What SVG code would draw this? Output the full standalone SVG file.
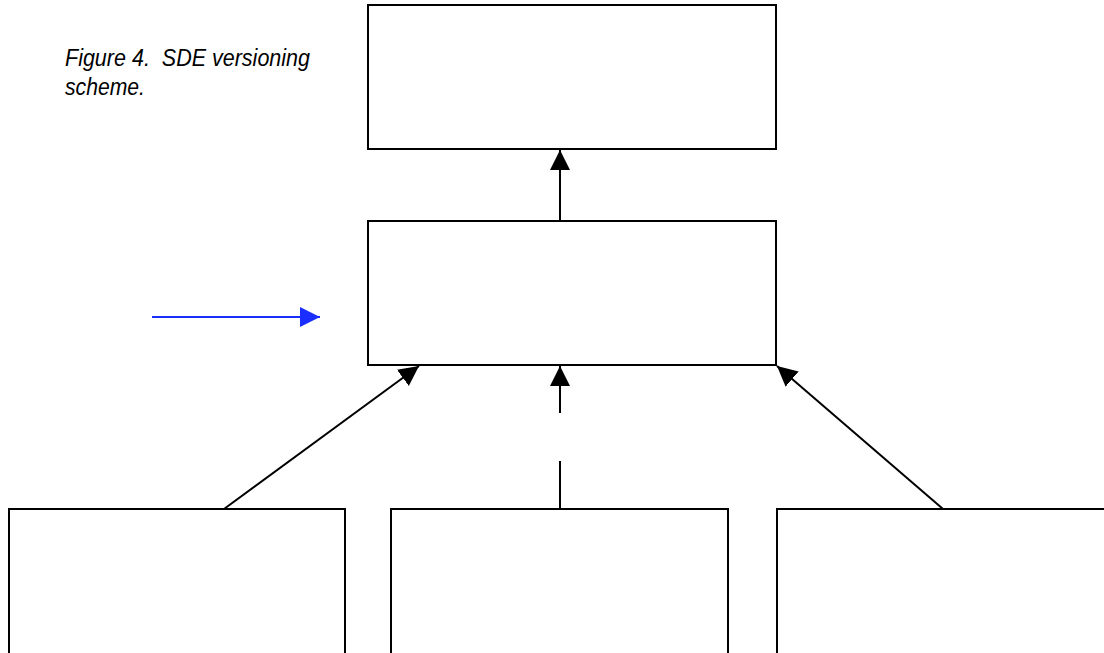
<svg xmlns="http://www.w3.org/2000/svg" width="1104" height="653" viewBox="0 0 1104 653">
<style>
.box{fill:#fff;stroke:#000;stroke-width:2}
.con{stroke:#000;stroke-width:2;fill:none}
.cap{font-family:"Liberation Sans",Arial,sans-serif;font-style:italic;font-size:24px;fill:#000}
</style>
<defs>
<marker id="ah" markerUnits="userSpaceOnUse" markerWidth="20" markerHeight="20" viewBox="0 0 20 20" refX="20" refY="10" orient="auto">
<path d="M0,0 L20,10 L0,20 Z" fill="#000"/>
</marker>
<marker id="ahb" markerUnits="userSpaceOnUse" markerWidth="20" markerHeight="20" viewBox="0 0 20 20" refX="20" refY="10" orient="auto">
<path d="M0,0 L20,10 L0,20 Z" fill="#1a2eff"/>
</marker>
</defs>
<rect width="1104" height="653" fill="#fff"/>
<g id="caption">
<text class="cap" x="65" y="66" textLength="245" lengthAdjust="spacingAndGlyphs" xml:space="preserve">Figure 4.  SDE versioning</text>
<text class="cap" x="65" y="95" textLength="80" lengthAdjust="spacingAndGlyphs">scheme.</text>
</g>
<g id="top"><rect class="box" x="368" y="5" width="408" height="144"/></g>
<g id="middle"><rect class="box" x="368" y="221" width="408" height="144"/></g>
<g id="bottom-left"><rect class="box" x="9" y="509" width="336" height="150"/></g>
<g id="bottom-center"><rect class="box" x="391" y="509" width="337" height="150"/></g>
<g id="bottom-right"><rect class="box" x="777" y="509" width="340" height="150"/></g>
<g id="connectors">
<line class="con" x1="560" y1="221" x2="560" y2="150" marker-end="url(#ah)"/>
<line class="con" x1="224" y1="509" x2="419" y2="366" marker-end="url(#ah)"/>
<line class="con" x1="943" y1="509" x2="777" y2="366" marker-end="url(#ah)"/>
<line class="con" x1="560" y1="509" x2="560" y2="461"/>
<line class="con" x1="560" y1="413" x2="560" y2="366" marker-end="url(#ah)"/>
<line x1="152" y1="317" x2="320" y2="317" stroke="#1a2eff" stroke-width="2" marker-end="url(#ahb)"/>
</g>
</svg>
